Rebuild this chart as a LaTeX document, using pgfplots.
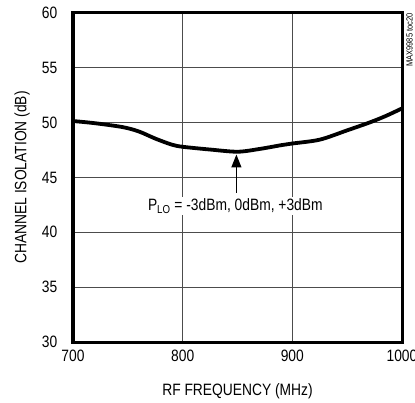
\documentclass[border=0pt]{standalone}
\usepackage{fontspec}
\setmainfont{Liberation Sans}[FakeStretch=0.84]
\usepackage{pgfplots}
\pgfplotsset{compat=1.18}
\usetikzlibrary{arrows.meta}
\begin{document}
\fontsize{16.5}{19}\selectfont
\begin{tikzpicture}
    \begin{axis}[
        at={(0,0)}, anchor=origin,
        scale only axis, width=329bp, height=329bp,
        xmin=700, xmax=1000, ymin=30, ymax=60,
        xtick={700,800,900,1000}, ytick={30,35,...,60},
        major tick length=0,
        grid=major, major grid style={black!70, line width=0.8bp},
        axis line style={line width=3bp},
        /pgf/number format/assume math mode=true,
        /pgf/number format/1000 sep={},
        ticklabel style={font=\fontsize{16.5}{19}\selectfont},
        yticklabel style={xshift=-10bp},
        xticklabel style={yshift=-2bp},
        clip=false]
        \addplot[black, line width=3.8bp, smooth] coordinates {
            (700,50.15) (720,49.95) (745,49.6) (760,49.2) (775,48.55)
            (790,48.0) (800,47.8) (825,47.55) (850,47.35) (870,47.6)
            (890,47.95) (900,48.1) (925,48.45) (950,49.3) (970,50.0)
            (985,50.6) (1000,51.3)};
        \draw[line width=1.3bp, -{Triangle[length=13bp, width=10bp]}]
            (axis cs:849,43.6) -- (axis cs:849,47.1);
        \node[fill=white, inner sep=2bp, font=\fontsize{16.5}{19}\selectfont]
            at (axis cs:848,42.4) {P\textsubscript{LO} = -3dBm, 0dBm, +3dBm};
    \end{axis}
    \node[rotate=90] at (-51bp,164.5bp) {CHANNEL ISOLATION (dB)};
    \node at (164.5bp,-49bp) {RF FREQUENCY (MHz)};
    \node[rotate=90, anchor=east, inner sep=0pt, font=\fontsize{9}{11}\selectfont]
        at (336.5bp,329bp) {MAX9985 toc20};
    \pgfresetboundingbox
    \useasboundingbox (-73bp,-61bp) rectangle (342bp,342bp);
\end{tikzpicture}
\end{document}
